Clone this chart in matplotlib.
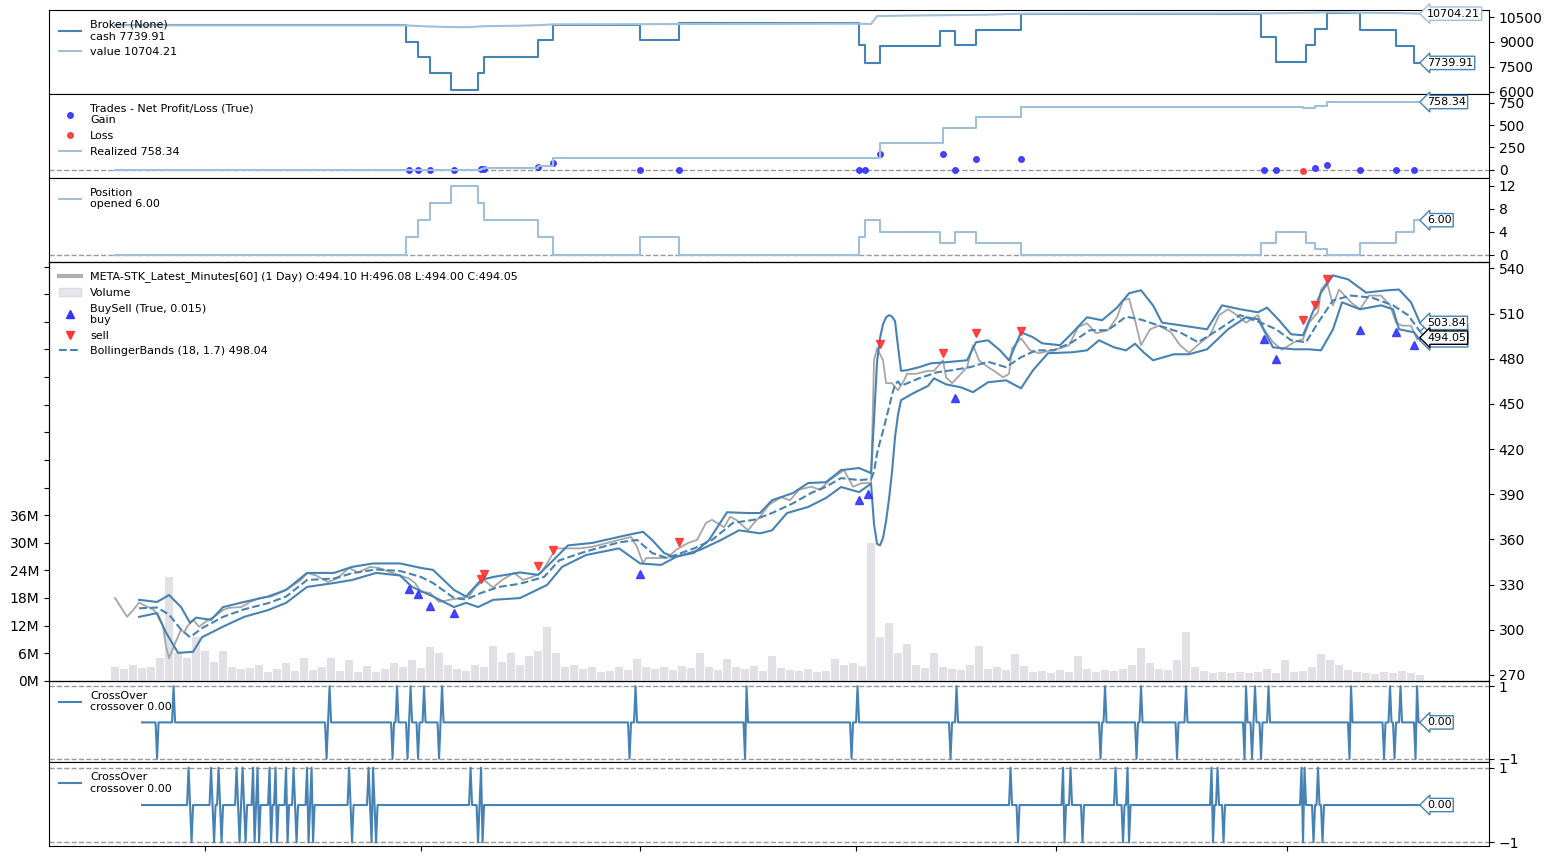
import numpy as np
import matplotlib
matplotlib.use("Agg")
import matplotlib.pyplot as plt
from matplotlib.lines import Line2D
from matplotlib.patches import Patch

# x unit = 2 bars (price sampled every unit); crossover uses 0.5 step (1 bar)
# ---------------- price / bollinger ----------------
price_idx = [0, 4, 6, 8, 11, 13, 14, 16, 17, 18, 20, 22, 23, 24, 26, 28, 31, 33, 36, 38,
             42, 45, 48, 52, 55, 58, 62, 64, 67, 71, 74, 78, 81, 85, 88, 92, 95, 98, 100, 102,
             105, 108, 112, 115, 118, 120, 123, 126, 129, 133, 136, 139, 142, 144, 147, 151, 155, 159, 164, 168,
             172, 174, 176, 177, 181, 184, 187, 191, 194, 197, 199, 203, 205, 207, 211, 213, 215, 218, 222, 225,
             228, 232, 235, 238, 243, 246, 249, 252, 253, 254, 256, 257, 259, 261, 263, 264, 267, 271, 273, 276,
             277, 279, 282, 284, 286, 288, 291, 293, 296, 298, 299, 302, 305, 308, 312, 315, 318, 321, 324, 327,
             331, 334, 336, 338, 340, 342, 345, 348, 352, 355, 358, 362, 365, 368, 371, 374, 377, 381, 383, 386,
             389, 393, 396, 398, 401, 402, 404, 406, 408, 412, 415, 418, 422, 425, 427, 429, 432, 434, 435]
price_close = [321, 308.5, 313, 318, 315, 313, 310, 302, 288.6, 281, 291, 300, 298, 302, 306.5, 302, 306.5, 308.5, 313, 314.5,
               315, 318.4, 321, 322, 324.5, 327.7, 333, 337.7, 336, 331.7, 334, 341, 338, 341.7, 341, 338, 336, 334, 331, 325,
               324.5, 318.4, 320, 321, 322, 328, 333, 328, 333, 337.7, 333, 335, 337.7, 344, 354, 354, 354, 355, 357.6, 359.6,
               361.6, 355, 344, 347.6, 347.6, 347.6, 353, 357.6, 359.6, 371, 373, 368, 375, 373, 366, 371, 375, 383, 388, 386,
               393, 395, 393, 399, 406, 395, 397.4, 397.4, 479, 487, 479, 463.8, 463.8, 459, 465.7, 470, 470, 472, 472, 479,
               467.7, 463.8, 470, 474.4, 489, 479, 474.4, 472, 467.7, 470, 487, 493.6, 485.6, 483.7, 485.6, 487, 489, 501, 503.6, 497,
               499, 507.6, 518.8, 520, 505.6, 489, 499.6, 502, 497.6, 489, 484, 491, 495.6, 509, 512.9, 509, 504, 509, 499.6, 491,
               486, 491, 493, 504, 511, 526, 530.8, 515.5, 526, 517.5, 512.9, 522, 522, 515.5, 504, 502, 502, 493, 494.05]

bb_top_idx = [8, 14, 18, 22, 25, 27, 32, 36, 43, 51, 57, 64, 73, 79, 86, 95, 102, 106, 113, 117,
              122, 126, 135, 141, 145, 151, 159, 171, 176, 179, 183, 186, 193, 198, 204, 211, 215, 219, 226, 231,
              237, 242, 248, 252, 253, 254, 255, 256, 257, 258, 259, 260, 261, 262, 264, 268, 272, 277, 284, 287,
              291, 295, 298, 302, 306, 309, 315, 319, 324, 329, 334, 338, 342, 346, 349, 356, 364, 369, 375, 381,
              384, 388, 392, 396, 402, 406, 411, 417, 424, 428, 432, 435]
bb_top = [319.8, 318.4, 323, 315, 304.5, 308, 306.5, 315, 318.4, 322, 326.4, 337.7, 337.7, 341.7, 344, 344, 341, 339.7, 326.4, 322,
          333, 335, 338, 336.4, 344, 356, 357.6, 363, 365, 359.6, 351, 348.3, 351, 359.6, 378, 377.5, 377.5, 386, 390.8, 397.4,
          398, 406, 407.4, 404, 440, 478, 494, 503, 507.5, 509, 508, 505, 488, 472, 472.4, 474.4, 477, 477.7, 479, 491,
          492.3, 485.6, 479, 497.6, 494.3, 490.3, 489, 497, 507.6, 505.6, 514, 523.5, 525.5, 515.5, 504, 502, 499.6, 515.5, 512.9, 510.9,
          514, 505.6, 496.3, 495.6, 524, 535.4, 532.8, 524, 525.5, 526, 517.5, 503.84]

bb_mid_idx = [8, 14, 18, 22, 25, 29, 36, 43, 51, 57, 64, 73, 79, 87, 95, 102, 106, 113, 117, 122,
              128, 135, 143, 148, 157, 168, 174, 179, 184, 193, 199, 206, 213, 219, 226, 232, 237, 242, 248, 252,
              253, 254, 255, 256, 257, 258, 259, 260, 261, 262, 268, 274, 279, 285, 291, 297, 302, 307, 313, 319,
              325, 331, 337, 342, 348, 355, 361, 368, 375, 382, 387, 392, 397, 401, 406, 412, 419, 426, 431, 435]
bb_mid = [314.2, 314.7, 310, 300, 295, 301, 308.5, 313.5, 317.6, 322, 333, 334, 337.5, 340, 339, 335, 331, 321, 320, 324.4,
          328.4, 330.5, 335, 346, 352, 358, 359.6, 351, 347.6, 354, 359.6, 371, 373, 377.5, 384, 390.8, 395, 400.7, 399.4, 400,
          405, 417, 425, 432, 440, 448, 456, 463, 465, 462, 467, 471, 472.4, 474.4, 478, 474.4, 481, 485.6, 485.6, 491,
          499, 499, 508, 506, 502, 497.6, 491, 499.6, 509, 504, 499.6, 492.3, 491, 504, 518.8, 522, 520.6, 515.5, 509, 498.04]

bb_bot_idx = [8, 14, 17, 21, 26, 29, 36, 43, 51, 57, 64, 73, 79, 87, 95, 99, 106, 113, 117, 121,
              126, 135, 144, 149, 157, 168, 175, 182, 187, 195, 202, 208, 215, 219, 224, 231, 237, 242, 248, 252,
              253, 254, 255, 256, 257, 258, 259, 260, 261, 262, 266, 271, 273, 277, 282, 286, 291, 297, 302, 306,
              311, 319, 324, 328, 333, 337, 340, 343, 346, 353, 358, 364, 371, 377, 381, 386, 393, 398, 402, 406,
              409, 415, 422, 426, 428, 433, 435]
bb_bot = [308.5, 311, 298, 284.6, 285.3, 295, 302, 308.5, 313, 317.8, 328.4, 331, 333, 337.7, 336, 328.4, 322, 315, 317.8, 315,
          319.8, 321, 329.7, 341.7, 349.6, 354, 344, 343, 348.3, 353, 359.6, 366, 364, 366, 377.5, 381.5, 387.5, 394.8, 391.4, 397,
          370, 357, 356, 361, 372, 387, 405, 428, 443, 452.5, 457, 462, 467, 463, 461, 457.8, 464.4, 465.7, 460.4, 472.4,
          483.7, 484.3, 485.6, 492.3, 487.6, 485.6, 490, 484, 479, 483, 483, 486.3, 499.6, 507.6, 506.3, 487.6, 486.3, 486.3, 485.6, 499.6,
          517.5, 512.9, 515.5, 512.9, 499.6, 497.6, 492.24]

buy_idx = [98, 101, 105, 113, 175, 248, 251, 280, 383, 387, 415, 427, 433]
buy_px = [327.1, 323.8, 315.8, 311.1, 337, 386.1, 390.1, 453.8, 493, 479.7, 498.9, 497.6, 489]
sell_idx = [122, 123, 141, 146, 188, 255, 276, 287, 302, 396, 400, 404]
sell_px = [333.7, 337, 342.3, 352.9, 358.3, 489.6, 483.7, 496.9, 498.3, 505.6, 515.5, 532.8]

# volume in millions, one value every 3 units
vol_idx = np.arange(0, 436, 3)
volume_m = [3.0, 2.5, 3.5, 2.8, 3.0, 5.0, 22.5, 6.0, 5.0, 9.5,
            6.5, 4.0, 6.5, 3.0, 2.5, 2.8, 3.5, 2.0, 2.6, 3.8,
            2.2, 5.0, 2.4, 3.0, 5.0, 2.2, 4.5, 2.0, 3.3, 2.0,
            2.5, 3.8, 3.0, 4.5, 2.8, 7.3, 6.0, 3.5, 2.5, 2.2,
            3.5, 3.0, 7.6, 4.0, 6.0, 3.5, 5.5, 6.5, 11.6, 6.0,
            3.0, 3.5, 2.5, 3.0, 2.0, 2.2, 3.0, 2.4, 4.8, 3.0,
            2.6, 3.0, 2.4, 3.2, 2.8, 6.0, 3.0, 2.4, 4.8, 3.0,
            2.6, 3.2, 2.2, 5.4, 2.8, 2.4, 2.2, 2.6, 2.0, 2.2,
            4.7, 3.5, 3.8, 3.2, 30.0, 9.5, 12.5, 6.0, 8.0, 3.5,
            2.8, 6.0, 3.0, 2.6, 2.4, 3.5, 7.6, 2.6, 3.0, 2.4,
            5.8, 3.2, 2.0, 2.2, 1.6, 2.4, 2.0, 5.4, 2.6, 2.0,
            2.4, 2.2, 2.6, 3.5, 7.2, 3.8, 2.5, 2.4, 4.6, 10.7,
            3.0, 2.2, 1.8, 2.0, 1.6, 2.0, 1.8, 2.0, 2.5, 1.6,
            4.6, 2.0, 2.2, 3.0, 5.8, 4.6, 3.5, 2.4, 2.0, 1.8,
            1.5, 2.0, 1.8, 2.2, 1.6, 1.2]

# ---------------- broker ----------------
cash_idx = [0, 97, 101, 105, 112, 121, 123, 141, 146, 175, 188, 248, 250, 255, 275, 280, 287, 302,
            382, 387, 397, 400, 404, 415, 427, 433, 435]
cash_val = [10000, 9020, 8090, 7120, 6120, 7150, 8120, 9100, 10000, 9100, 10130, 8800, 7750, 8750, 9650, 8800, 9700, 10700,
            9300, 7800, 8800, 9800, 10750, 9750, 8750, 7739.91, 7739.91]
value_idx = [0, 97, 101, 105, 112, 118, 123, 135, 141, 146, 175, 188, 248, 252, 254, 270, 290, 302, 382, 400, 404, 415, 427, 435]
value_val = [10000, 10000, 9960, 9930, 9900, 9890, 9950, 9980, 10010, 10060, 10070, 10080, 10100, 10080, 10560, 10600, 10640,
             10700, 10720, 10760, 10790, 10760, 10740, 10704.21]

# ---------------- trades ----------------
gain_idx = [98, 101, 105, 113, 122, 123, 141, 146, 175, 188, 248, 250, 255, 276, 280, 287, 302, 383, 387, 400, 404, 415, 427, 433]
gain_val = [0, 0, 0, 0, 11, 11, 34, 78, 0, 0, 0, 0, 179, 179, 0, 123, 123, 0, 0, 22, 56, 0, 0, 0]
loss_idx = [396]
loss_val = [-11]
real_idx = [0, 122, 123, 141, 146, 255, 276, 287, 302, 396, 400, 404, 435]
real_val = [0, 8, 16, 42, 130, 300, 470, 585, 705, 695, 715, 758.34, 758.34]

# ---------------- position ----------------
pos_idx = [0, 97, 101, 105, 112, 121, 123, 141, 146, 175, 188, 248, 250, 255, 275, 280, 287, 302,
           382, 387, 397, 400, 404, 415, 427, 433, 435]
pos_val = [0, 3, 6, 9, 12, 9, 6, 3, 0, 3, 0, 3, 6, 4, 2, 4, 2, 0, 2, 4, 2, 1, 0, 2, 4, 6, 6]

# ---------------- crossovers (event position, sign) ----------------
cross1_at = [14.0, 19.5, 70.5, 71.5, 92.5, 94.0, 97.5, 98.5, 101.0, 103.0, 108.0, 109.0,
             171.5, 173.5, 210.0, 210.5, 245.5, 247.5, 278.5, 280.5,
             328.5, 330.0, 340.5, 342.0, 354.0, 357.0, 376.5, 377.0, 379.0, 380.0, 382.0, 384.5,
             411.5, 412.0, 423.0, 425.0, 426.5, 428.5, 433.5, 434.0]
cross1_sign = [-1, 1, -1, 1, -1, 1, -1, 1, -1, 1, -1, 1,
               -1, 1, -1, 1, -1, 1, -1, 1,
               -1, 1, -1, 1, -1, 1, -1, 1, -1, 1, -1, 1,
               -1, 1, -1, 1, -1, 1, -1, 1]
cross2_at = [24.5, 25.5, 32.0, 33.0, 34.5, 35.5, 40.5, 41.5, 42.5, 43.5, 46.0, 46.5, 47.5, 48.0,
             51.5, 52.0, 53.5, 54.0, 57.0, 57.5, 59.5, 60.5, 64.0, 64.5, 65.5, 66.0,
             78.0, 79.0, 84.5, 85.5, 86.0, 87.0, 118.5, 121.0, 122.0, 122.5,
             298.5, 301.0, 316.0, 316.5, 318.5, 322.5, 333.5, 336.0, 337.5, 338.0,
             365.5, 366.0, 367.5, 369.5, 395.5, 396.0, 396.5, 399.5, 401.0, 402.5]
cross2_sign = [1, -1] * 28

# ---------------- drawing ----------------
C_DARK = "#4682b4"
C_LIGHT = "#9fbfda"
C_GRAY = "#999999"
END = 435

fig = plt.figure(figsize=(15.53, 8.61), dpi=100)
gs = fig.add_gridspec(6, 1, height_ratios=[1, 1, 1, 5, 0.97, 1], hspace=0,
                      left=0.0316, right=0.9588, top=0.9884, bottom=0.0174)
axes = []
for i in range(6):
    ax = fig.add_subplot(gs[i], sharex=axes[0] if axes else None)
    ax.tick_params(axis="x", which="both", bottom=False, labelbottom=False)
    axes.append(ax)
ax_b, ax_t, ax_p, ax_m, ax_c1, ax_c2 = axes
ax_m.set_xlim(-22, 458)


def value_tag(ax, y, text, ec, z=5):
    ax.annotate(text, xy=(END, y), xytext=(5, 0), textcoords="offset points",
                va="center", ha="left", fontsize=8, zorder=z,
                bbox=dict(boxstyle="larrow,pad=0.15", fc="white", ec=ec, lw=1))


leg_kw = dict(loc="upper left", frameon=False, fontsize=8, handlelength=2.0)

# broker
ax_b.step(cash_idx, cash_val, where="post", color=C_DARK, lw=1.5, label="Broker (None)\ncash 7739.91")
ax_b.plot(value_idx, value_val, color=C_LIGHT, lw=1.5, label="value 10704.21")
ax_b.set_ylim(5878, 10925)
ax_b.set_yticks([6000, 7500, 9000, 10500])
ax_b.legend(**leg_kw)
value_tag(ax_b, 10704.21, "10704.21", C_LIGHT)
value_tag(ax_b, 7739.91, "7739.91", C_DARK)

# trades
ax_t.axhline(0, color=C_GRAY, ls="--", lw=1)
ax_t.plot(gain_idx, gain_val, "o", color="#3333ff", ms=4, alpha=0.9, label="Trades - Net Profit/Loss (True)\nGain")
ax_t.plot(loss_idx, loss_val, "o", color="#ff3333", ms=4, alpha=0.9, label="Loss")
ax_t.step(real_idx, real_val, where="post", color=C_LIGHT, lw=1.5, label="Realized 758.34")
ax_t.set_ylim(-90, 850)
ax_t.set_yticks([0, 250, 500, 750])
ax_t.legend(**leg_kw)
value_tag(ax_t, 758.34, "758.34", C_DARK)

# position
ax_p.axhline(0, color=C_GRAY, ls="--", lw=1)
ax_p.step(pos_idx, pos_val, where="post", color=C_LIGHT, lw=1.5, label="Position\nopened 6.00")
ax_p.set_ylim(-1.2, 13.4)
ax_p.set_yticks([0, 4, 8, 12])
ax_p.legend(**leg_kw)
value_tag(ax_p, 6.0, "6.00", C_DARK)

# main: volume on a left twin axis below price
ax_v = ax_m.twinx()
ax_v.bar(vol_idx, np.array(volume_m) * 1e6, width=2.4, color="#e0e0e5", lw=0)
ax_v.set_ylim(0, 91.1e6)
vt = np.arange(0, 91e6, 6e6)
ax_v.set_yticks(vt)
ax_v.set_yticklabels([f"{int(v / 1e6)}M" if v <= 36e6 else "" for v in vt])
ax_m.set_zorder(ax_v.get_zorder() + 1)
ax_m.patch.set_visible(False)

ax_m.plot(price_idx, price_close, color="#a6a6a6", lw=1.3, zorder=3)
ax_m.plot(bb_top_idx, bb_top, color=C_DARK, lw=1.5, zorder=4)
ax_m.plot(bb_bot_idx, bb_bot, color=C_DARK, lw=1.5, zorder=4)
ax_m.plot(bb_mid_idx, bb_mid, color=C_DARK, lw=1.5, ls="--", zorder=4)
ax_m.plot(buy_idx, buy_px, "^", color="#3333ff", ms=6, ls="", alpha=0.9, zorder=5)
ax_m.plot(sell_idx, sell_px, "v", color="#ff3333", ms=6, ls="", alpha=0.9, zorder=5)
ax_m.set_ylim(266, 544.6)
ax_m.set_yticks(np.arange(270, 541, 30))
handles = [
    Line2D([], [], color="#b0b0b0", lw=3),
    Patch(fc="#e6e6ea", ec="#dcdce2"),
    Line2D([], [], marker="^", color="#3333ff", ls="", ms=6),
    Line2D([], [], marker="v", color="#ff3333", ls="", ms=6),
    Line2D([], [], color=C_DARK, ls="--", lw=1.5),
]
labels = [
    "META-STK_Latest_Minutes[60] (1 Day) O:494.10 H:496.08 L:494.00 C:494.05",
    "Volume",
    "BuySell (True, 0.015)\nbuy",
    "sell",
    "BollingerBands (18, 1.7) 498.04",
]
ax_m.legend(handles, labels, **leg_kw)
value_tag(ax_m, 492.24, "492.24", C_DARK, z=6)
value_tag(ax_m, 498.04, "498.04", C_DARK, z=7)
value_tag(ax_m, 503.84, "503.84", C_DARK, z=8)
value_tag(ax_m, 494.05, "494.05", "black", z=9)

# crossovers
grid = np.arange(9.0, END + 0.25, 0.5)
for ax, at, sign in ((ax_c1, cross1_at, cross1_sign), (ax_c2, cross2_at, cross2_sign)):
    series = np.zeros_like(grid)
    for a, s in zip(at, sign):
        series[int(round((a - grid[0]) / 0.5))] = s
    ax.axhline(1, color=C_GRAY, ls="--", lw=1)
    ax.axhline(-1, color=C_GRAY, ls="--", lw=1)
    ax.plot(grid, series, color=C_DARK, lw=1.5, label="CrossOver\ncrossover 0.00")
    ax.set_ylim(-1.1, 1.15)
    ax.set_yticks([-1, 1])
    ax.legend(**leg_kw)
    value_tag(ax, 0.0, "0.00", C_DARK)

# y ticks: price side on the right, volume on the left (set after twinx)
for ax in axes:
    ax.yaxis.tick_right()
ax_v.yaxis.tick_left()

ax_c2.tick_params(axis="x", which="both", bottom=True, labelbottom=False)
ax_c2.set_xticks([30, 102, 175, 247, 313.7, 390.7])

fig.savefig("out.png", dpi=100)
